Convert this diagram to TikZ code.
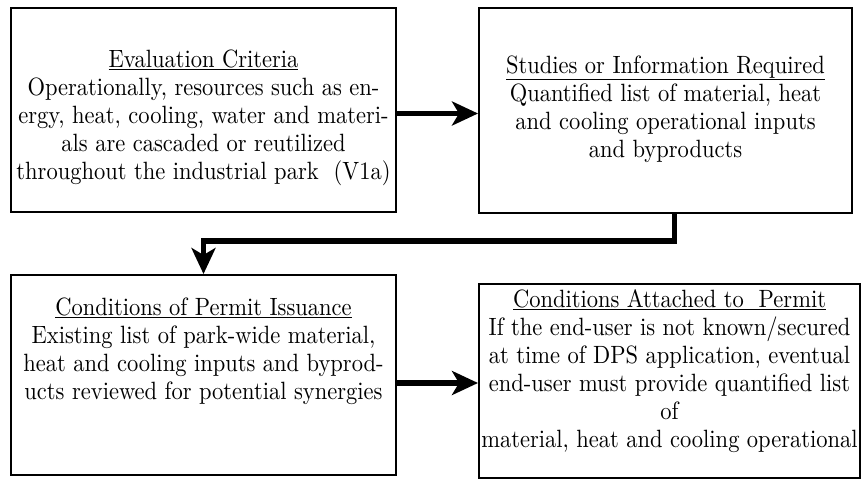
\documentclass[tikz,border=0pt]{standalone}
\usepackage{fontspec}
\setmainfont{lmroman10-regular}[Extension=.otf,FakeStretch=0.9]
\usepackage{tikz}
\usetikzlibrary{arrows.meta,positioning,calc}

\begin{document}
\begin{tikzpicture}[
    x=1pt,y=-1pt,
    box/.style={rectangle,draw=black,line width=2pt,minimum width=#1},
    txt/.style={align=center,inner sep=0pt,font=\fontsize{25}{28}\selectfont},
    arrow/.style={-{Stealth[length=26pt,width=24pt,inset=7pt]},line width=5.5pt}
]
\useasboundingbox (0,0) rectangle (862,479);

% frames
\node[box=385pt,minimum height=204pt] (criteria) at (203.5,110) {};
\node[box=373pt,minimum height=205pt,right=81pt of criteria] (studies) {};
\node[box=385pt,minimum height=200pt,below=61pt of criteria] (issue) {};
\node[box=381pt,minimum height=194pt,right=81pt of issue,yshift=-6pt] (attached) {};

% texts
\node[txt] (criteriatext) at ([yshift=-8pt]criteria.center) {\underline{Evaluation Criteria}\\Operationally, resources such as en-\\ergy, heat, cooling, water and materi-\\als are cascaded or reutilized\\throughout the industrial park~ (V1a)};
\node[txt] (studiestext) at ([yshift=1pt]studies.center) {\underline{Studies or Information Required}\\Quantified list of material, heat\\and cooling operational inputs\\and byproducts};
\node[txt] (issuetext) at ([yshift=24pt]issue.center) {\underline{Conditions of Permit Issuance}\\Existing list of park-wide material,\\heat and cooling inputs and byprod-\\ucts reviewed for potential synergies};
\node[txt] (attachedtext) at ([yshift=10pt]attached.center) {\underline{Conditions Attached to~ Permit}\\If the end-user is not known/secured\\at time of DPS application, eventual\\end-user must provide quantified list\\of\\material, heat and cooling operational};

% connectors
\draw[arrow] ([yshift=-3.5pt]criteria.east) -- ([yshift=-3.5pt]studies.west);
\draw[arrow] ([xshift=9pt]studies.south) -- ++(0,27.5) -| (issue.north);
\draw[arrow] ([yshift=-8pt]issue.east) -- ([yshift=-8pt]issue.east -| attached.west);

\end{tikzpicture}
\end{document}
